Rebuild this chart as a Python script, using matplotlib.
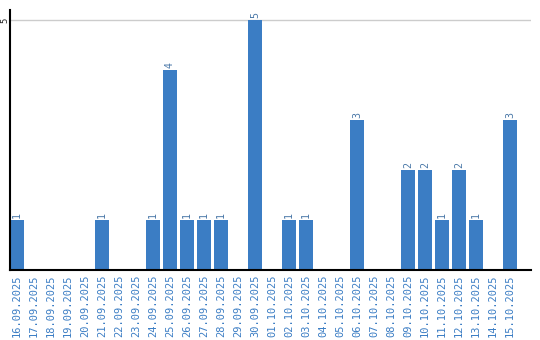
import matplotlib
matplotlib.use("Agg")
import matplotlib.pyplot as plt

dates = ["16.09.2025", "17.09.2025", "18.09.2025", "19.09.2025", "20.09.2025",
         "21.09.2025", "22.09.2025", "23.09.2025", "24.09.2025", "25.09.2025",
         "26.09.2025", "27.09.2025", "28.09.2025", "29.09.2025", "30.09.2025",
         "01.10.2025", "02.10.2025", "03.10.2025", "04.10.2025", "05.10.2025",
         "06.10.2025", "07.10.2025", "08.10.2025", "09.10.2025", "10.10.2025",
         "11.10.2025", "12.10.2025", "13.10.2025", "14.10.2025", "15.10.2025"]
counts = [1, 0, 0, 0, 0, 1, 0, 0, 1, 4,
          1, 1, 1, 0, 5, 0, 1, 1, 0, 0,
          3, 0, 0, 2, 2, 1, 2, 1, 0, 3]

bar_color = "#3b7dc4"
mono = "DejaVu Sans Mono"

fig = plt.figure(figsize=(5.4, 3.4), dpi=100)
ax = fig.add_axes([10 / 540, 70 / 340, 521 / 540, 260 / 340])

x = list(range(len(dates)))
ax.bar(x, counts, width=0.82, color=bar_color, zorder=2)

for i, c in enumerate(counts):
    if c > 0:
        ax.text(i, c + 0.04, str(c), rotation=90, ha="center", va="bottom",
                fontsize=7.2, family=mono, color="#4a78a8", zorder=3)

ax.set_xlim(-0.41, 30.24)
ax.set_ylim(0, 5.2)
ax.set_xticks(x)
ax.set_xticklabels(dates, rotation=90, family=mono, fontsize=7.5, color=bar_color)
ax.tick_params(axis="x", length=0, pad=3)
ax.set_yticks([5])
ax.set_yticklabels([])
ax.tick_params(axis="y", length=0)
ax.text(-5.5 / 521, 5, "5", transform=ax.get_yaxis_transform(), rotation=90,
        ha="center", va="center", family=mono, fontsize=6.5, color="#222222")
ax.yaxis.grid(True, color="#cccccc", linewidth=1, zorder=0)

for side in ["top", "right"]:
    ax.spines[side].set_visible(False)
ax.spines["left"].set_linewidth(1.5)
ax.spines["bottom"].set_linewidth(1.5)

fig.savefig("out.png", dpi=100)
